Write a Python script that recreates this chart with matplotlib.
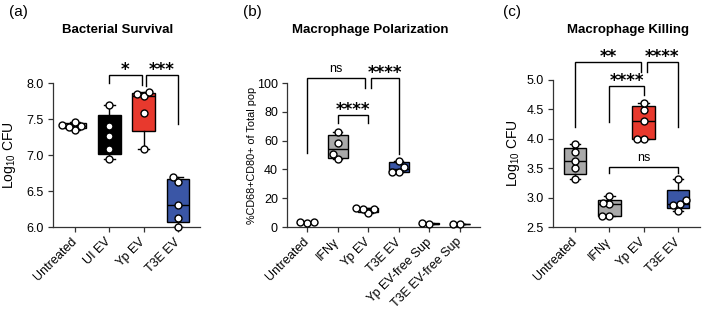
import numpy as np
import matplotlib.pyplot as plt

plt.rcParams['font.family'] = ['Liberation Sans', 'DejaVu Sans']
plt.rcParams['mathtext.fontset'] = 'custom'
plt.rcParams['mathtext.rm'] = 'Liberation Sans'
plt.rcParams['mathtext.default'] = 'regular'

# ---- data ----
surv_labels = ['Untreated', 'UI EV', 'Yp EV', 'T3E EV']
surv_values = [[7.46, 7.42, 7.40, 7.39, 7.35],
               [7.70, 7.40, 7.27, 7.09, 6.94],
               [7.88, 7.85, 7.82, 7.58, 7.09],
               [6.70, 6.63, 6.31, 6.13, 6.00]]

polar_labels = ['Untreated', 'IFNγ', 'Yp EV', 'T3E EV', 'Yp EV-free Sup', 'T3E EV-free Sup']
polar_values = [[2.8, 3.2, 3.3],
                [66.2, 58.1, 50.7, 47.0],
                [9.5, 12.3, 12.5, 13.0],
                [46.1, 41.4, 38.5, 38.3],
                [2.0, 2.5],
                [2.1, 2.4]]

kill_labels = ['Untreated', 'IFNγ', 'Yp EV', 'T3E EV']
kill_values = [[3.91, 3.78, 3.63, 3.50, 3.31],
               [3.02, 2.91, 2.89, 2.69, 2.69],
               [4.61, 4.49, 4.31, 4.00, 3.99],
               [3.31, 2.96, 2.89, 2.87, 2.78]]

GRAY = '#a9a9a9'
RED = '#e8392d'
BLUE = '#3a56a6'
surv_colors = [GRAY, '#000000', RED, BLUE]
polar_colors = [GRAY, GRAY, GRAY, BLUE, GRAY, GRAY]
kill_colors = [GRAY, GRAY, RED, BLUE]

W, H = 703, 311
fig = plt.figure(figsize=(W / 100, H / 100), dpi=100)


def add_ax(l, t, r, b):
    return fig.add_axes([l / W, 1 - b / H, (r - l) / W, (b - t) / H])


def box_stats(vals):
    v = np.asarray(vals)
    q1, med, q3 = np.percentile(v, [25, 50, 75], method='weibull')
    return dict(med=med, q1=q1, q3=q3, whislo=v.min(), whishi=v.max(), fliers=[])


def swarm(ax, xc, vals, diam=6.8):
    # simple beeswarm in pixel space so the dots don't overlap
    placed = []
    cands = sorted(np.arange(-30, 30.25, 0.25), key=lambda o: (abs(o), o))
    x0 = ax.transData.transform((xc, 0))[0]
    xs = []
    for v in sorted(vals):
        yp = ax.transData.transform((xc, v))[1]
        for o in cands:
            if all((o - po) ** 2 + (yp - py) ** 2 >= diam ** 2 for po, py in placed):
                break
        placed.append((o, yp))
        xs.append(ax.transData.inverted().transform((x0 + o, yp))[0])
    return xs, sorted(vals)


def panel(ax, labels, values, colors, ylim, yticks, fmt):
    n = len(labels)
    ax.set_xlim(-0.65, n - 1 + 0.65)
    ax.set_ylim(*ylim)
    for i, (vals, c) in enumerate(zip(values, colors)):
        ax.bxp([box_stats(vals)], positions=[i], widths=0.65, patch_artist=True,
               showfliers=False, manage_ticks=False, capwidths=0.3,
               boxprops=dict(facecolor=c, edgecolor='black', lw=1),
               medianprops=dict(color='black', lw=1),
               whiskerprops=dict(color='black', lw=1),
               capprops=dict(color='black', lw=1))
        xs, ys = swarm(ax, i, vals)
        ax.plot(xs, ys, 'o', ms=5, mfc='white', mec='black', mew=1,
                clip_on=False, zorder=5)
    ax.set_xticks(range(n))
    ax.set_xticklabels(labels, rotation=45, ha='right', va='center',
                       rotation_mode='anchor', fontsize=9)
    ax.set_yticks(yticks)
    ax.set_yticklabels([fmt.format(t) for t in yticks], fontsize=9)
    for s in ['top', 'right']:
        ax.spines[s].set_visible(False)
    for s in ['left', 'bottom']:
        ax.spines[s].set_linewidth(0.9)
        ax.spines[s].set_color('#333333')
    ax.tick_params(length=3.5, width=0.9, color='#333333', pad=3)
    ax.tick_params(axis='x', pad=6)


def bracket(ax, x1, x2, top, y1, y2, text):
    ax.plot([x1, x1, x2, x2], [y1, top, top, y2], color='black', lw=1,
            clip_on=False, solid_joinstyle='miter')
    if text == 'ns':
        ax.annotate(text, ((x1 + x2) / 2, top), xytext=(0, 9), textcoords='offset pixels',
                    ha='center', va='center', fontsize=9, annotation_clip=False)
    else:
        ax.annotate(text, ((x1 + x2) / 2, top), xytext=(0, 5), textcoords='offset pixels',
                    ha='center', va='center', fontsize=12, fontweight='bold',
                    family='DejaVu Sans', annotation_clip=False)


def ylabel(ax, text, xpix, left, width, fs):
    ax.set_ylabel(text, fontsize=fs, va='center')
    ax.yaxis.set_label_coords((xpix - left) / width, 0.5)


# (a) bacterial survival
ax1 = add_ax(53, 83, 200, 227)
panel(ax1, surv_labels, surv_values, surv_colors, (6.0, 8.0),
      [6.0, 6.5, 7.0, 7.5, 8.0], '{:.1f}')
bracket(ax1, 1, 1.94, 8.11, 8.0, 7.97, '*')
bracket(ax1, 2.08, 3, 8.11, 7.96, 7.43, '***')
ylabel(ax1, 'Log$_{10}$ CFU', 10, 53, 147, 10)

# (b) macrophage polarization
ax2 = add_ax(287, 83, 480, 227)
panel(ax2, polar_labels, polar_values, polar_colors, (0, 100),
      [0, 20, 40, 60, 80, 100], '{:.0f}')
bracket(ax2, 0, 1.9, 103.7, 51.6, 96.8, 'ns')
bracket(ax2, 1, 2, 77.6, 71.9, 71.9, '****')
bracket(ax2, 2.1, 3, 103.7, 96.8, 50.7, '****')
ylabel(ax2, '%CD68+CD80+ of Total pop', 252, 287, 193, 7.8)

# (c) macrophage killing
ax3 = add_ax(553, 80, 700, 227)
panel(ax3, kill_labels, kill_values, kill_colors, (2.5, 5.0),
      [2.5, 3.0, 3.5, 4.0, 4.5, 5.0], '{:.1f}')
bracket(ax3, 0, 1.93, 5.30, 4.20, 5.14, '**')
bracket(ax3, 2.1, 3, 5.30, 5.14, 4.20, '****')
bracket(ax3, 1, 2, 4.90, 4.29, 4.75, '****')
bracket(ax3, 1, 3, 3.52, 3.41, 3.41, 'ns')
ylabel(ax3, 'Log$_{10}$ CFU', 514, 553, 147, 10)

# titles and panel letters
for x, t in [(118, 'Bacterial Survival'), (370, 'Macrophage Polarization'),
             (628, 'Macrophage Killing')]:
    fig.text(x / W, 1 - 30 / H, t, ha='center', va='center', fontsize=9.5,
             fontweight='bold')
for x, t in [(9, '(a)'), (243, '(b)'), (503, '(c)')]:
    fig.text(x / W, 1 - 12 / H, t, ha='left', va='center', fontsize=11)

fig.savefig('out.png', dpi=100)
